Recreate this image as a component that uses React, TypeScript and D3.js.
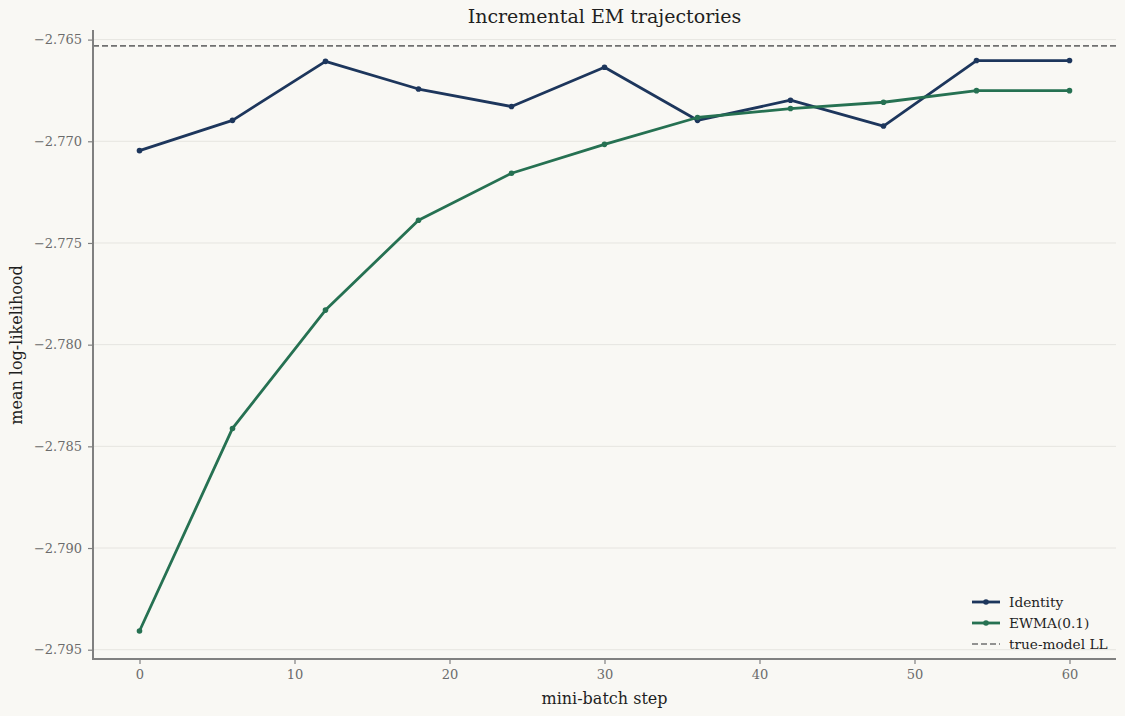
import React, { useRef, useEffect } from 'react';
import * as d3 from 'd3';

// ==================== DATA ====================
const STEPS = [0, 6, 12, 18, 24, 30, 36, 42, 48, 54, 60];
const IDENTITY = [-2.77046, -2.76897, -2.76607, -2.76743, -2.76829, -2.76636, -2.76897, -2.76798, -2.76925, -2.76603, -2.76603];
const EWMA = [-2.79408, -2.78412, -2.7783, -2.77388, -2.77157, -2.77015, -2.76883, -2.76839, -2.76808, -2.76751, -2.76751];
const TRUE_LL = -2.76531;
const X_TICKS = [0, 10, 20, 30, 40, 50, 60];
const Y_TICKS = [-2.765, -2.77, -2.775, -2.78, -2.785, -2.79, -2.795];

// ==================== CONFIG ====================
const W = 1125;
const H = 716;
const M = { left: 93, right: 9, top: 31, bottom: 57 };
const FONT = "'DejaVu Serif', serif";
const COLORS = {
    bg: '#f9f8f4',
    identity: '#1d365c',
    ewma: '#267152',
    ref: '#707070',
    grid: '#e6e5e0',
    spine: '#808080',
    tickText: '#6b6b6b',
    text: '#1f1f1f'
};

const fmt = (v: number) => (v < 0 ? '\u2212' : '') + Math.abs(v).toFixed(3);

const App = () => {
    const svgRef = useRef<SVGSVGElement>(null);

    useEffect(() => {
        document.body.style.margin = '0';
        document.body.style.background = COLORS.bg;

        const svg = d3.select(svgRef.current);
        svg.selectAll('*').remove();

        const x = d3.scaleLinear().domain([-3, 63]).range([M.left, W - M.right]);
        const y = d3.scaleLinear().domain([-2.795457, -2.764577]).range([H - M.bottom, M.top]);

        svg.append('rect').attr('width', W).attr('height', H).attr('fill', COLORS.bg);

        // horizontal grid
        svg.append('g').selectAll('line')
            .data(Y_TICKS).enter().append('line')
            .attr('x1', M.left).attr('x2', W - M.right)
            .attr('y1', d => y(d)).attr('y2', d => y(d))
            .attr('stroke', COLORS.grid).attr('stroke-width', 1);

        // true-model reference line
        svg.append('line')
            .attr('x1', M.left).attr('x2', W - M.right)
            .attr('y1', y(TRUE_LL)).attr('y2', y(TRUE_LL))
            .attr('stroke', COLORS.ref).attr('stroke-width', 1.6)
            .attr('stroke-dasharray', '6,3');

        // series
        const series = [
            { name: 'Identity', values: IDENTITY, color: COLORS.identity },
            { name: 'EWMA(0.1)', values: EWMA, color: COLORS.ewma }
        ];
        const line = d3.line<number>().x((_, i) => x(STEPS[i])).y(d => y(d));
        series.forEach(s => {
            svg.append('path')
                .datum(s.values)
                .attr('fill', 'none')
                .attr('stroke', s.color)
                .attr('stroke-width', 2.8)
                .attr('stroke-linejoin', 'round')
                .attr('d', line);
            svg.append('g').selectAll('circle')
                .data(s.values).enter().append('circle')
                .attr('cx', (_, i) => x(STEPS[i]))
                .attr('cy', d => y(d))
                .attr('r', 2.8)
                .attr('fill', s.color);
        });

        // axes
        const xAxis = svg.append('g')
            .attr('transform', `translate(0,${H - M.bottom})`)
            .call(d3.axisBottom(x).tickValues(X_TICKS).tickSize(5).tickPadding(6));
        const yAxis = svg.append('g')
            .attr('transform', `translate(${M.left},0)`)
            .call(d3.axisLeft(y).tickValues(Y_TICKS).tickFormat(d => fmt(d as number)).tickSize(5).tickPadding(6));
        [xAxis, yAxis].forEach(a => {
            a.select('.domain').remove();
            a.selectAll('.tick line').attr('stroke', COLORS.spine).attr('stroke-width', 1.2);
            a.selectAll('.tick text')
                .attr('fill', COLORS.tickText)
                .attr('font-family', FONT)
                .attr('font-size', 13);
        });
        // spines
        svg.append('line')
            .attr('x1', M.left).attr('x2', M.left)
            .attr('y1', M.top - 1).attr('y2', H - M.bottom + 1)
            .attr('stroke', COLORS.spine).attr('stroke-width', 2);
        svg.append('line')
            .attr('x1', M.left - 1).attr('x2', W - M.right)
            .attr('y1', H - M.bottom).attr('y2', H - M.bottom)
            .attr('stroke', COLORS.spine).attr('stroke-width', 2);

        // title and labels
        svg.append('text')
            .attr('x', (M.left + W - M.right) / 2).attr('y', 23)
            .attr('text-anchor', 'middle')
            .attr('font-family', FONT).attr('font-size', 19)
            .attr('fill', COLORS.text)
            .text('Incremental EM trajectories');
        svg.append('text')
            .attr('x', (M.left + W - M.right) / 2).attr('y', 704)
            .attr('text-anchor', 'middle')
            .attr('font-family', FONT).attr('font-size', 16)
            .attr('fill', COLORS.text)
            .text('mini-batch step');
        svg.append('text')
            .attr('transform', `translate(22,${(M.top + H - M.bottom) / 2}) rotate(-90)`)
            .attr('text-anchor', 'middle')
            .attr('font-family', FONT).attr('font-size', 16)
            .attr('fill', COLORS.text)
            .text('mean log-likelihood');

        // legend
        const legendItems = [
            { name: 'Identity', color: COLORS.identity, dashed: false },
            { name: 'EWMA(0.1)', color: COLORS.ewma, dashed: false },
            { name: 'true-model LL', color: COLORS.ref, dashed: true }
        ];
        const lg = svg.append('g').attr('transform', 'translate(972,602)');
        legendItems.forEach((it, i) => {
            const row = lg.append('g').attr('transform', `translate(0,${i * 21})`);
            row.append('line')
                .attr('x1', 0).attr('x2', 28).attr('y1', 0).attr('y2', 0)
                .attr('stroke', it.color)
                .attr('stroke-width', it.dashed ? 1.6 : 2.8)
                .attr('stroke-dasharray', it.dashed ? '6,3' : null);
            if (!it.dashed) {
                row.append('circle').attr('cx', 14).attr('cy', 0).attr('r', 2.8).attr('fill', it.color);
            }
            row.append('text')
                .attr('x', 37).attr('y', 0).attr('dy', '0.35em')
                .attr('font-family', FONT).attr('font-size', 13.7)
                .attr('fill', COLORS.text)
                .text(it.name);
        });
    }, []);

    return (
        <svg ref={svgRef} width={W} height={H} style={{ display: 'block' }} />
    );
};

export default App;
